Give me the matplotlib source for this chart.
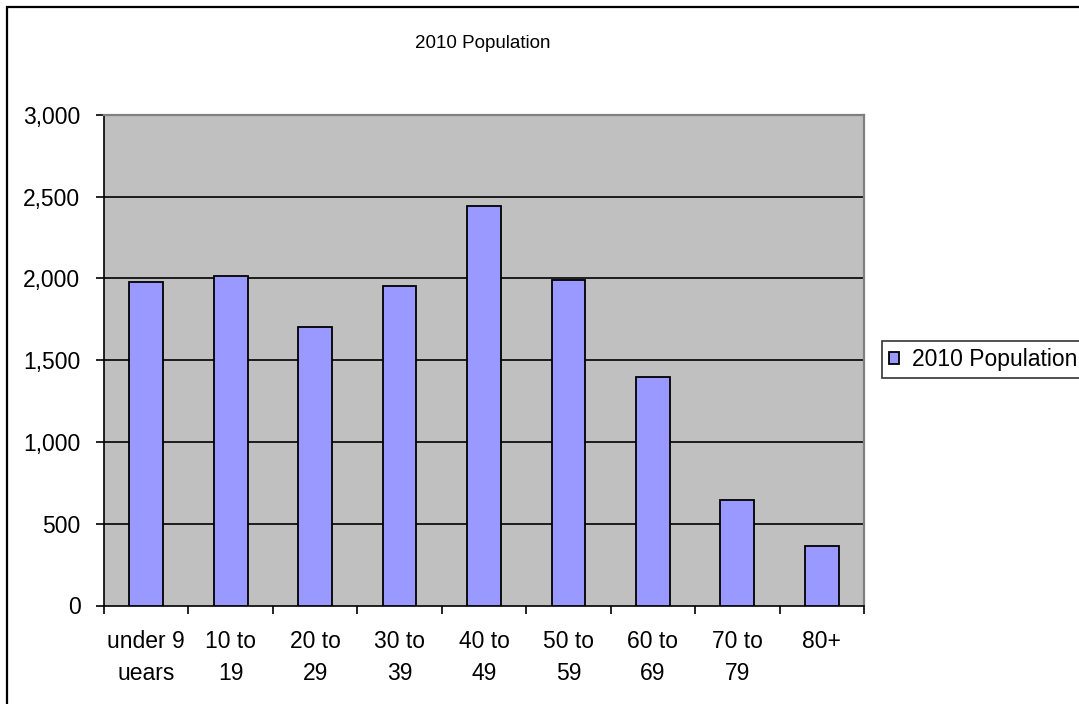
import matplotlib
import matplotlib.pyplot as plt
import matplotlib.patches as mpatches
import numpy as np
matplotlib.use('agg')

plt.rcParams['font.family'] = ['Liberation Sans', 'DejaVu Sans']

age_groups = ["under 9\nuears", "10 to\n19", "20 to\n29", "30 to\n39", "40 to\n49",
              "50 to\n59", "60 to\n69", "70 to\n79", "80+"]
population = [1980, 2015, 1700, 1950, 2440, 1990, 1395, 645, 365]
series_name = "2010 Population"

fig = plt.figure(figsize=(10.79, 7.04), dpi=100)
W, H = 1079, 704

# chart frame, runs off the right and bottom edges
fig.patches.append(mpatches.Rectangle((7 / W, -10 / H), 1.1, (H + 10 - 7) / H,
                                      transform=fig.transFigure, fill=False,
                                      edgecolor='black', linewidth=1.6))

ax = fig.add_axes([104 / W, (H - 605.5) / H, (864 - 104) / W, (605.5 - 114.7) / H])
ax.set_facecolor('#C0C0C0')

x = np.arange(len(age_groups))
ax.bar(x, population, width=0.4, color='#9999FF', edgecolor='black', linewidth=1.3,
       label=series_name, zorder=3)

ax.set_xlim(-0.5, len(age_groups) - 0.5)
ax.set_ylim(0, 3000)
ax.set_yticks(range(0, 3001, 500))
ax.set_yticklabels([f"{v:,}" for v in range(0, 3001, 500)])
for v in range(500, 3000, 500):
    ax.axhline(v, color='black', linewidth=1.2, zorder=1)

ax.set_xticks(x)
ax.set_xticklabels(age_groups, linespacing=1.45)
ax.set_xticks(np.arange(-0.5, len(age_groups)), minor=True)
ax.tick_params(axis='x', which='major', length=0, pad=18, labelsize=16.5)
ax.tick_params(axis='x', which='minor', length=6, width=1.2, direction='out')
ax.tick_params(axis='y', length=6, width=1.2, direction='out', pad=11, labelsize=16.5)

for side in ['left', 'bottom']:
    ax.spines[side].set_color('black')
    ax.spines[side].set_linewidth(1.2)
for side in ['top', 'right']:
    ax.spines[side].set_color('#808080')
    ax.spines[side].set_linewidth(1.6)

fig.text(483 / W, 1 - 43 / H, series_name, ha='center', va='center', fontsize=13.5)

leg = fig.legend(loc='upper left', bbox_to_anchor=(882 / W, 1 - 341 / H), fontsize=16.5,
                 frameon=True, fancybox=False, edgecolor='black', handlelength=0.45,
                 handleheight=0.45, handletextpad=0.55, borderpad=0.3, borderaxespad=0)
leg.get_frame().set_linewidth(1.2)

fig.savefig('out.png', dpi=100)
